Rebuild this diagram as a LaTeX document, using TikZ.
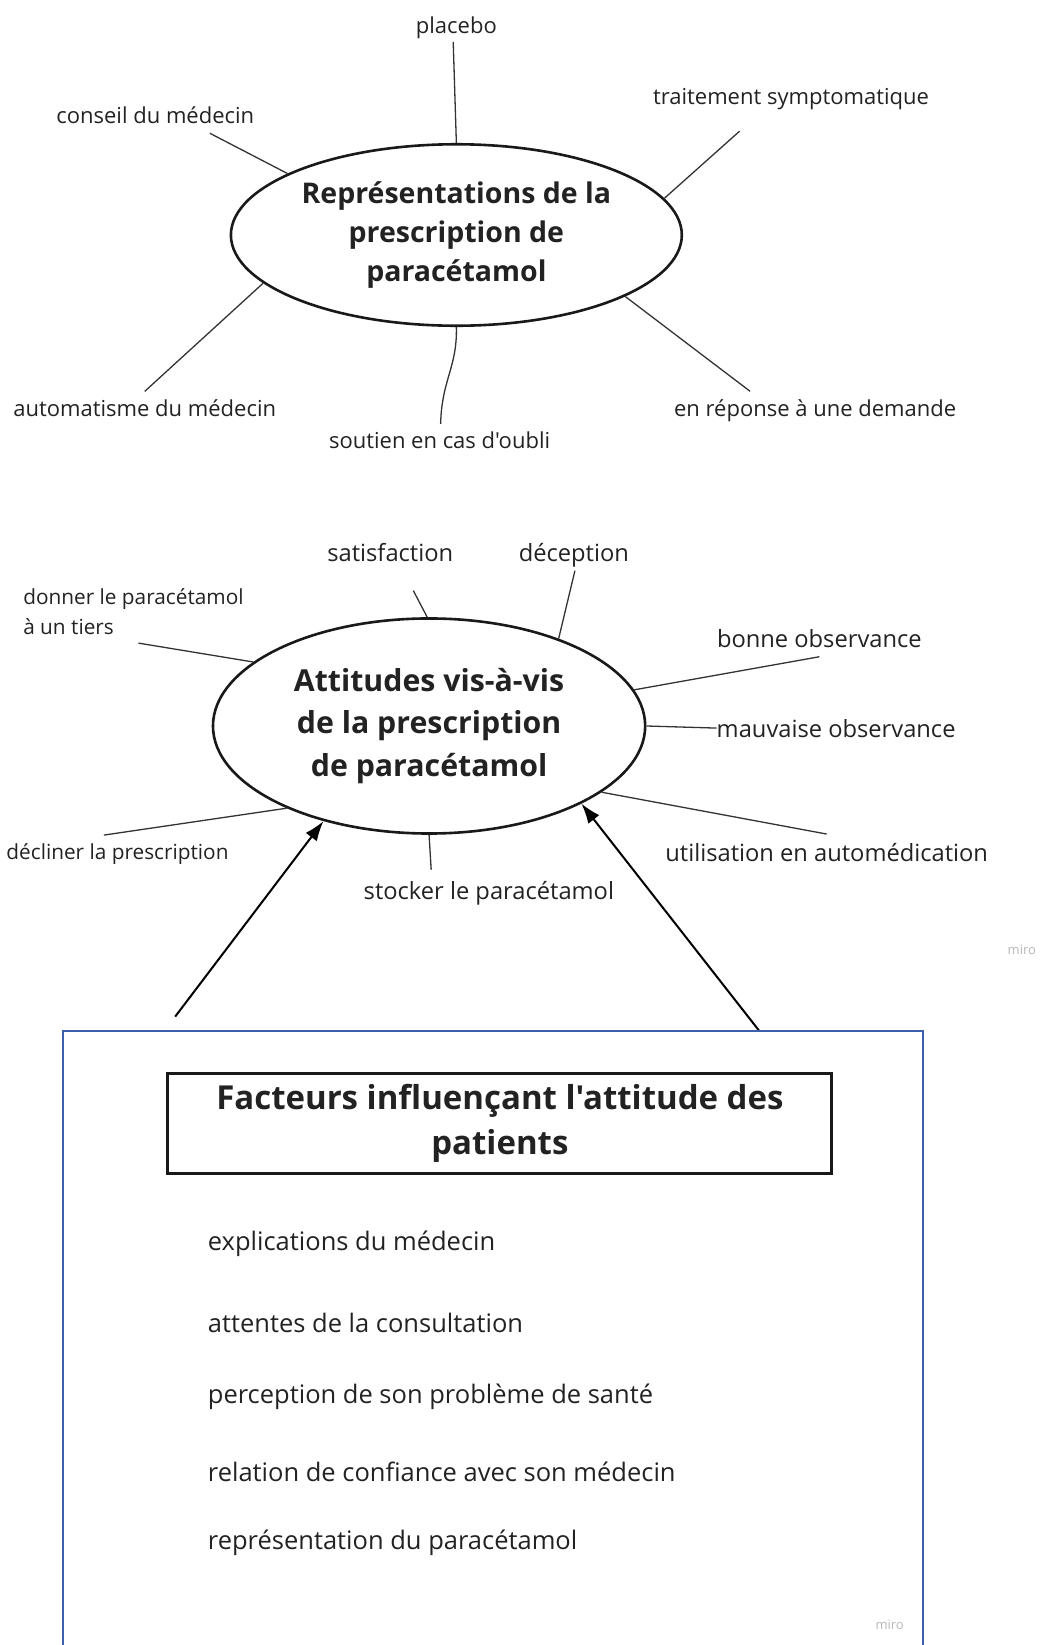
\documentclass[tikz,border=0pt]{standalone}
\usepackage{fontspec}
\setmainfont{Open Sans}[Ligatures=TeXOff]
\usetikzlibrary{shapes.geometric,arrows.meta}
\definecolor{spoke}{HTML}{333333}
\definecolor{boxblue}{HTML}{3B5FA8}
\definecolor{txt}{HTML}{222222}
\begin{document}
\begin{tikzpicture}[x=1.0493pt,y=-1.0493pt,
  lab/.style={font=\fontsize{22}{29.4}\selectfont, text=txt, inner sep=0pt, anchor=base},
  labR/.style={lab, font=\fontsize{23.7}{29.4}\selectfont},
  labL/.style={lab, font=\fontsize{20.8}{29.4}\selectfont},
  spk/.style={draw=spoke, line width=1.3pt},
  ell/.style={ellipse, draw=black!90, line width=2.6pt, inner sep=0pt, align=center, text=txt},
  itemtxt/.style={font=\fontsize{25.5}{30}\selectfont, anchor=base west, inner sep=0pt, text=txt},
  arr/.style={line width=2pt, -{Latex[length=20pt,width=14pt]}},
  wm/.style={font=\fontsize{13}{15}\selectfont, text=black!28, inner sep=0pt}]
\useasboundingbox (0,0) rectangle (994,1568);

% ---------- top ellipse ----------
\node[ell, minimum width=451pt, minimum height=181.5pt,
  font=\fontsize{28.5}{39}\selectfont\bfseries] (rep) at (435,224)
  {Représentations de la\\prescription de\\paracétamol};

\node[lab] (placebo) at (435,32.4) {placebo};
\node[lab] (conseil) at (148,117.4) {conseil du médecin};
\node[lab] (traitement) at (754,99.4) {traitement symptomatique};
\node[lab] (automatisme) at (138,397.4) {automatisme du médecin};
\node[lab] (soutien) at (419,427.4) {soutien en cas d'oubli};
\node[lab] (reponse) at (777,397.4) {en réponse à une demande};

\coordinate (cPlacebo) at (432,40);
\coordinate (cConseil) at (200,127);
\coordinate (cTraitement) at (705,125);
\coordinate (cAutomatisme) at (138,373);
\coordinate (cSoutien) at (420,404);
\coordinate (cReponse) at (715,373);

\draw[spk] (cPlacebo) -- (rep.90);
\draw[spk] (cConseil) -- (rep.160.7);
\draw[spk] (cTraitement) -- (rep.10);
\draw[spk] (cAutomatisme) -- (rep.194.4);
\draw[spk] (rep.270) .. controls (436,350) and (421,362) .. (cSoutien);
\draw[spk] (cReponse) -- (rep.340);

% ---------- middle ellipse ----------
\node[ell, minimum width=432.3pt, minimum height=215.1pt,
  font=\fontsize{30.3}{42.5}\selectfont\bfseries] (att) at (409,692)
  {Attitudes vis-à-vis\\de la prescription\\de paracétamol};

\node[labR] (satisfaction) at (372,535) {satisfaction};
\node[labR] (deception) at (547,535) {déception};
\node[labL, align=left, anchor=west] (donner) at (22,583) {donner le paracétamol\\à un tiers};
\node[labR] (bonne) at (781,617) {bonne observance};
\node[labR, anchor=base west] (mauvaise) at (683,703) {mauvaise observance};
\node[labR] (utilisation) at (788,821) {utilisation en automédication};
\node[labL] (decliner) at (112,819) {décliner la prescription};
\node[labR] (stocker) at (466,857) {stocker le paracétamol};

\coordinate (cSatisfaction) at (394,563);
\coordinate (cDeception) at (548,544);
\coordinate (cDonner) at (132,613);
\coordinate (cBonne) at (781,626);
\coordinate (cUtilisation) at (788,795);
\coordinate (cDecliner) at (99,796);
\coordinate (cStocker) at (411,829);
\coordinate (cMauvaise) at (683,694);

\draw[spk] (cSatisfaction) -- (att.91);
\draw[spk] (cDeception) -- (att.34.3);
\draw[spk] (cDonner) -- (att.160.9);
\draw[spk] (cBonne) -- (att.10.5);
\draw[spk] (att.0) -- (cMauvaise);
\draw[spk] (cUtilisation) -- (att.339.3);
\draw[spk] (cDecliner) -- (att.210);
\draw[spk] (cStocker) -- (att.270);

% ---------- arrows ----------
\coordinate (aStart1) at (167,969);
\coordinate (aStart2) at (724,983);
\draw[arr] (aStart1) -- (att.222.5);
\draw[arr] (aStart2) -- (att.333.1);

% ---------- factors frame ----------
\draw[boxblue, line width=2pt] (60,1568) -- (60,983) -- (880,983) -- (880,1568);

\node[draw=black!90, line width=3pt, minimum width=664pt, minimum height=100.7pt,
  align=center, inner sep=0pt, font=\fontsize{33}{45}\selectfont\bfseries, text=txt]
  (facteurs) at (476.5,1071) {Facteurs influençant l'attitude des\\patients};

\node[itemtxt] (i1) at (198,1191.7) {explications du médecin};
\node[itemtxt] (i2) at (198,1269.7) {attentes de la consultation};
\node[itemtxt] (i3) at (198,1337.7) {perception de son problème de santé};
\node[itemtxt] (i4) at (198,1411.7) {relation de confiance avec son médecin};
\node[itemtxt] (i5) at (198,1476.7) {représentation du paracétamol};

% ---------- watermarks ----------
\node[wm] (wm1) at (974,905) {miro};
\node[wm] (wm2) at (848,1549) {miro};
\end{tikzpicture}
\end{document}
